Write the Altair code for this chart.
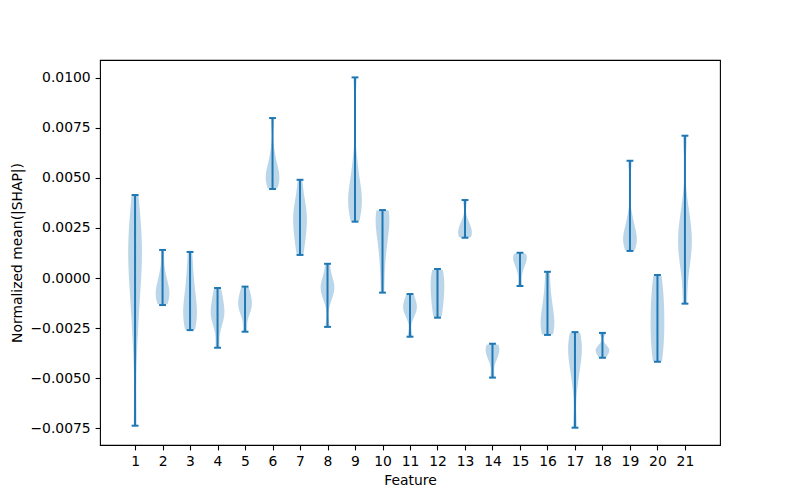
import altair as alt
import pandas as pd

# Per-feature samples of normalized mean(|SHAP|)
shap_f1 = [-0.00737, -0.0030, -0.0015, -0.0003, 0.0006, 0.0011, 0.0015, 0.0021, 0.0030, 0.00414]
shap_f2 = [-0.00135, -0.0011, -0.0009, -0.0007, -0.0005, -0.0002, 0.0003, 0.0014]
shap_f3 = [-0.0026, -0.0022, -0.0019, -0.0016, -0.0012, -0.0006, 0.0002, 0.0013]
shap_f4 = [-0.00348, -0.0024, -0.0020, -0.0018, -0.0016, -0.0013, -0.0009, -0.0005]
shap_f5 = [-0.00268, -0.0018, -0.0015, -0.0013, -0.0011, -0.0008, -0.00043]
shap_f6 = [0.00444, 0.0047, 0.0049, 0.0051, 0.0053, 0.0056, 0.0062, 0.00798]
shap_f7 = [0.00115, 0.0018, 0.0023, 0.0027, 0.0031, 0.0034, 0.0038, 0.0049]
shap_f8 = [-0.00244, -0.0011, -0.0007, -0.0005, -0.0003, 0.0000, 0.00071]
shap_f9 = [0.00281, 0.0033, 0.0037, 0.0040, 0.0043, 0.0048, 0.0058, 0.01001]
shap_f10 = [-0.00073, 0.0008, 0.0017, 0.0024, 0.0028, 0.0031, 0.0033, 0.00339]
shap_f11 = [-0.00293, -0.0019, -0.0016, -0.0014, -0.0012, -0.0008]
shap_f12 = [-0.00198, -0.0015, -0.0010, -0.0006, -0.0002, 0.0002, 0.00045]
shap_f13 = [0.00201, 0.0021, 0.0023, 0.0025, 0.0028, 0.00389]
shap_f14 = [-0.00497, -0.0041, -0.0038, -0.0036, -0.0034, -0.00328]
shap_f15 = [-0.0004, 0.0004, 0.0008, 0.0010, 0.0011, 0.00126]
shap_f16 = [-0.00284, -0.0026, -0.0023, -0.0020, -0.0015, -0.0008, 0.00031]
shap_f17 = [-0.00747, -0.0052, -0.0043, -0.0038, -0.0035, -0.0031, -0.0027]
shap_f18 = [-0.00398, -0.0037, -0.0036, -0.0034, -0.00274]
shap_f19 = [0.00135, 0.0017, 0.0019, 0.0021, 0.0024, 0.0030, 0.00585]
shap_f20 = [-0.00418, -0.0035, -0.0028, -0.0021, -0.0014, -0.0007, 0.00015]
shap_f21 = [-0.00128, 0.0005, 0.0012, 0.0017, 0.0021, 0.0026, 0.0035, 0.0071]

features = list(range(1, 22))
all_samples = [shap_f1, shap_f2, shap_f3, shap_f4, shap_f5, shap_f6, shap_f7,
               shap_f8, shap_f9, shap_f10, shap_f11, shap_f12, shap_f13, shap_f14,
               shap_f15, shap_f16, shap_f17, shap_f18, shap_f19, shap_f20, shap_f21]
y_ticks = [-0.0075, -0.005, -0.0025, 0.0, 0.0025, 0.005, 0.0075, 0.01]

rows = []
for f, vals in zip(features, all_samples):
    for v in vals:
        rows.append({"feature": f, "value": v})
df = pd.DataFrame(rows)

C0 = "#1f77b4"
FONT = "DejaVu Sans"
FS = 13.9

x_scale = alt.Scale(domain=[-0.275, 22.275], nice=False, zero=False)
y_scale = alt.Scale(domain=[-0.008333, 0.010878], nice=False, zero=False)

x_axis = alt.Axis(values=features, title="Feature", grid=False, domain=False,
                  tickSize=4.9, tickColor="black", tickWidth=1.1,
                  labelPadding=4.5, labelFontSize=FS, labelFont=FONT, labelColor="black",
                  labelFlush=False, labelOverlap=False,
                  titleFontSize=FS, titleFont=FONT, titleFontWeight="normal",
                  titleColor="black", titlePadding=5)
y_axis = alt.Axis(values=y_ticks, format=".4f", title="Normalized mean(|SHAP|)",
                  grid=False, domain=False, tickSize=4.9, tickColor="black", tickWidth=1.1,
                  labelPadding=4.9, labelFontSize=FS, labelFont=FONT, labelColor="black",
                  labelFlush=False, labelOverlap=False,
                  titleFontSize=FS, titleFont=FONT, titleFontWeight="normal",
                  titleColor="black", titlePadding=5.6)

base = alt.Chart(df).transform_joinaggregate(
    vmin="min(value)", vmax="max(value)", groupby=["feature"]
)

violin = base.transform_density(
    "value", groupby=["feature", "vmin", "vmax"], as_=["value", "density"], steps=300
).transform_joinaggregate(
    maxd="max(density)", groupby=["feature"]
).transform_calculate(
    vc="clamp(datum.value, datum.vmin, datum.vmax)",
    lo="datum.feature - 0.25 * datum.density / datum.maxd",
    hi="datum.feature + 0.25 * datum.density / datum.maxd",
).mark_area(orient="horizontal", color=C0, opacity=0.3).encode(
    y=alt.Y("vc:Q", scale=y_scale, axis=y_axis),
    x=alt.X("lo:Q", scale=x_scale, axis=x_axis),
    x2="hi:Q",
    detail="feature:N",
)

stats = alt.Chart(df).transform_aggregate(
    vmin="min(value)", vmax="max(value)", groupby=["feature"]
).transform_calculate(
    a="datum.feature - 0.125", b="datum.feature + 0.125"
)

bars = stats.mark_rule(color=C0, strokeWidth=2).encode(
    x=alt.X("feature:Q", scale=x_scale, axis=x_axis),
    y=alt.Y("vmin:Q", scale=y_scale, axis=y_axis),
    y2="vmax:Q",
)
cap_lo = stats.mark_rule(color=C0, strokeWidth=2).encode(
    x=alt.X("a:Q", scale=x_scale, axis=x_axis), x2="b:Q",
    y=alt.Y("vmin:Q", scale=y_scale, axis=y_axis),
)
cap_hi = stats.mark_rule(color=C0, strokeWidth=2).encode(
    x=alt.X("a:Q", scale=x_scale, axis=x_axis), x2="b:Q",
    y=alt.Y("vmax:Q", scale=y_scale, axis=y_axis),
)

chart = alt.layer(violin, bars, cap_lo, cap_hi).properties(
    width=620, height=385,
    background="white",
    padding={"left": 92, "top": 52, "right": 72, "bottom": 47},
    autosize=alt.AutoSizeParams(type="none"),
).configure_view(
    stroke="black", strokeWidth=1.1
)

chart.save("out.html", embed_options={"renderer": "svg", "actions": False})
